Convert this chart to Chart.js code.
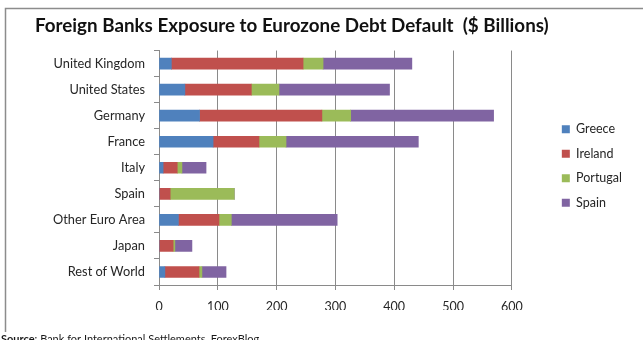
<!DOCTYPE html>
<html>
<head>
<meta charset="utf-8">
<script src="https://cdn.jsdelivr.net/npm/chart.js@4/dist/chart.umd.min.js"></script>
<style>
  html, body { margin: 0; padding: 0; background: #fff; }
  #wrap { width: 643px; height: 340px; position: relative; }
</style>
</head>
<body>
<div id="wrap"><canvas id="exposure"></canvas></div>
<script>
const categories = ['United Kingdom', 'United States', 'Germany', 'France', 'Italy', 'Spain', 'Other Euro Area', 'Japan', 'Rest of World'];
const greece   = [21, 44, 69, 92, 7, 0, 33, 0, 10];
const ireland  = [224, 113, 208, 78, 24, 19, 69, 24, 58];
const portugal = [34, 47, 49, 46, 8, 109, 21, 3, 5];
const spain    = [151, 188, 243, 225, 41, 0, 180, 29, 41];
const xTicks   = [0, 100, 200, 300, 400, 500, 600];

const FONT = 'Lato, "Open Sans", sans-serif';
const GRID = '#8a8a8a';

// outer frame and the source note under the chart
const framePlugin = {
  id: 'frame',
  beforeDraw(chart) {
    const c = chart.ctx;
    c.save();
    c.fillStyle = '#fff';
    c.fillRect(0, 0, chart.width, chart.height);
    c.strokeStyle = '#8c8c8c';
    c.lineWidth = 1.5;
    c.beginPath();
    c.moveTo(5.5, 332);
    c.lineTo(5.5, 8.5);
    c.lineTo(chart.width, 8.5);
    c.stroke();
    c.restore();
  },
  afterDraw(chart) {
    const c = chart.ctx;
    c.save();
    c.fillStyle = '#1a1a1a';
    c.textBaseline = 'alphabetic';
    c.font = 'bold 11px ' + FONT;
    c.fillText('Source', 1, 343);
    const w = c.measureText('Source').width;
    c.font = '11px ' + FONT;
    c.fillText(': Bank for International Settlements, ForexBlog', 1 + w, 343);
    c.restore();
  }
};

const ds = (label, data, color) => ({
  label, data,
  backgroundColor: color,
  borderWidth: 0,
  barThickness: 11
});

new Chart(document.getElementById('exposure'), {
  type: 'bar',
  data: {
    labels: categories,
    datasets: [
      ds('Greece', greece, '#4f81bd'),
      ds('Ireland', ireland, '#c0504d'),
      ds('Portugal', portugal, '#9bbb59'),
      ds('Spain', spain, '#8064a2')
    ]
  },
  options: {
    indexAxis: 'y',
    responsive: true,
    maintainAspectRatio: false,
    animation: false,
    layout: { padding: { left: 35, right: 11, top: 0, bottom: 30 } },
    scales: {
      x: {
        stacked: true,
        min: 0, max: 600,
        afterBuildTicks: s => { s.ticks = xTicks.map(v => ({ value: v })); },
        afterFit: s => { s.height = 25; },
        grid: { color: GRID, lineWidth: 1, tickLength: 5, drawOnChartArea: true },
        border: { color: GRID, width: 1 },
        ticks: { color: '#262626', font: { family: FONT, size: 12.5 }, padding: 9 }
      },
      y: {
        stacked: true,
        afterFit: s => { s.width = 124; },
        grid: { offset: true, drawOnChartArea: false, color: GRID, tickLength: 5 },
        border: { color: GRID, width: 1 },
        ticks: { color: '#262626', font: { family: FONT, size: 12.8 }, padding: 9 }
      },
      // empty right-hand axis, only keeps the legend clear of the plot
      gap: {
        type: 'linear',
        position: 'right',
        display: true,
        afterFit: s => { s.width = 38; },
        grid: { display: false },
        border: { display: false },
        ticks: { display: false }
      }
    },
    plugins: {
      title: {
        display: true,
        text: 'Foreign Banks Exposure to Eurozone Debt Default  ($ Billions)',
        align: 'start',
        color: '#111',
        font: { family: FONT, size: 18.8, weight: 'bold' },
        padding: { top: 15, bottom: 13 }
      },
      legend: {
        position: 'right',
        title: { display: true, text: ' ', font: { size: 10 }, padding: 5 },
        labels: {
          boxWidth: 8,
          boxHeight: 8,
          padding: 12,
          color: '#262626',
          font: { family: FONT, size: 12.5 }
        }
      },
      tooltip: { enabled: false }
    }
  },
  plugins: [framePlugin]
});
</script>
</body>
</html>
